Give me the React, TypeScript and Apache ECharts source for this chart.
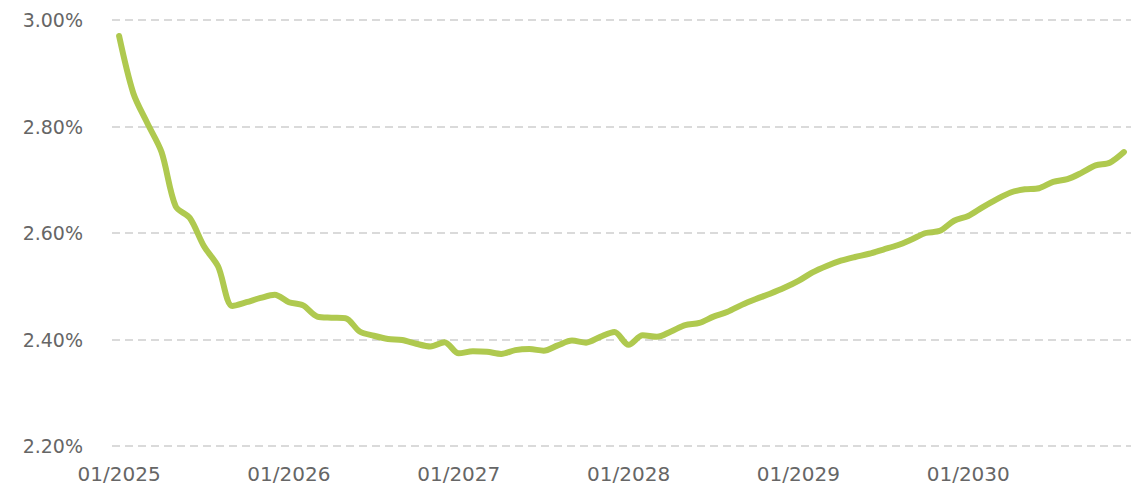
import React, { useEffect, useRef } from "react";
import * as echarts from "echarts";

const years = [2025, 2026, 2027, 2028, 2029, 2030];
const months = ["01", "02", "03", "04", "05", "06", "07", "08", "09", "10", "11", "12"];
const categories: string[] = [];
years.forEach((y) => months.forEach((m) => categories.push(`${m}/${y}`)));

const rateValues = [
  2.970, 2.863, 2.806, 2.752, 2.650, 2.628, 2.575, 2.537, 2.463, 2.470, 2.478, 2.484,
  2.470, 2.464, 2.443, 2.441, 2.440, 2.415, 2.407, 2.401, 2.399, 2.392, 2.387, 2.395,
  2.374, 2.378, 2.377, 2.373, 2.380, 2.382, 2.379, 2.389, 2.398, 2.394, 2.405, 2.414,
  2.390, 2.408, 2.405, 2.415, 2.427, 2.431, 2.443, 2.452, 2.465, 2.476, 2.486, 2.497,
  2.510, 2.526, 2.538, 2.548, 2.555, 2.561, 2.569, 2.577, 2.588, 2.600, 2.604, 2.623,
  2.632, 2.648, 2.663, 2.676, 2.682, 2.684, 2.696, 2.701, 2.713, 2.727, 2.732, 2.752,
];

const yMin = 2.2;
const yMax = 3.0;
const yStep = 0.2;

export default function App() {
  const ref = useRef<HTMLDivElement>(null);
  useEffect(() => {
    document.body.style.margin = "0";
    if (!ref.current) return;
    const chart = echarts.init(ref.current, undefined, { renderer: "svg" });
    chart.setOption({
      animation: false,
      backgroundColor: "#ffffff",
      grid: { left: 112, right: 17, top: 20, bottom: 40, containLabel: false },
      xAxis: {
        type: "category",
        data: categories,
        boundaryGap: true,
        axisLine: { show: false },
        axisTick: { show: false },
        splitLine: { show: false },
        axisLabel: {
          interval: 11,
          margin: 18,
          color: "#666666",
          fontFamily: "DejaVu Sans",
          fontSize: 20,
        },
      },
      yAxis: {
        type: "value",
        min: yMin,
        max: yMax,
        interval: yStep,
        axisLine: { show: false },
        axisTick: { show: false },
        splitLine: {
          show: true,
          lineStyle: { color: "#dadada", width: 2, type: [8, 5] },
        },
        axisLabel: {
          margin: 29,
          color: "#666666",
          fontFamily: "DejaVu Sans",
          fontSize: 19,
          formatter: (v: number) => v.toFixed(2) + "%",
        },
      },
      series: [
        {
          type: "line",
          data: rateValues,
          showSymbol: false,
          symbol: "none",
          smooth: 0.3,
          lineStyle: { color: "#afc94f", width: 6, cap: "round", join: "round" },
          itemStyle: { color: "#afc94f" },
        },
      ],
    });
    return () => chart.dispose();
  }, []);
  return <div ref={ref} style={{ width: 1148, height: 486 }} />;
}
